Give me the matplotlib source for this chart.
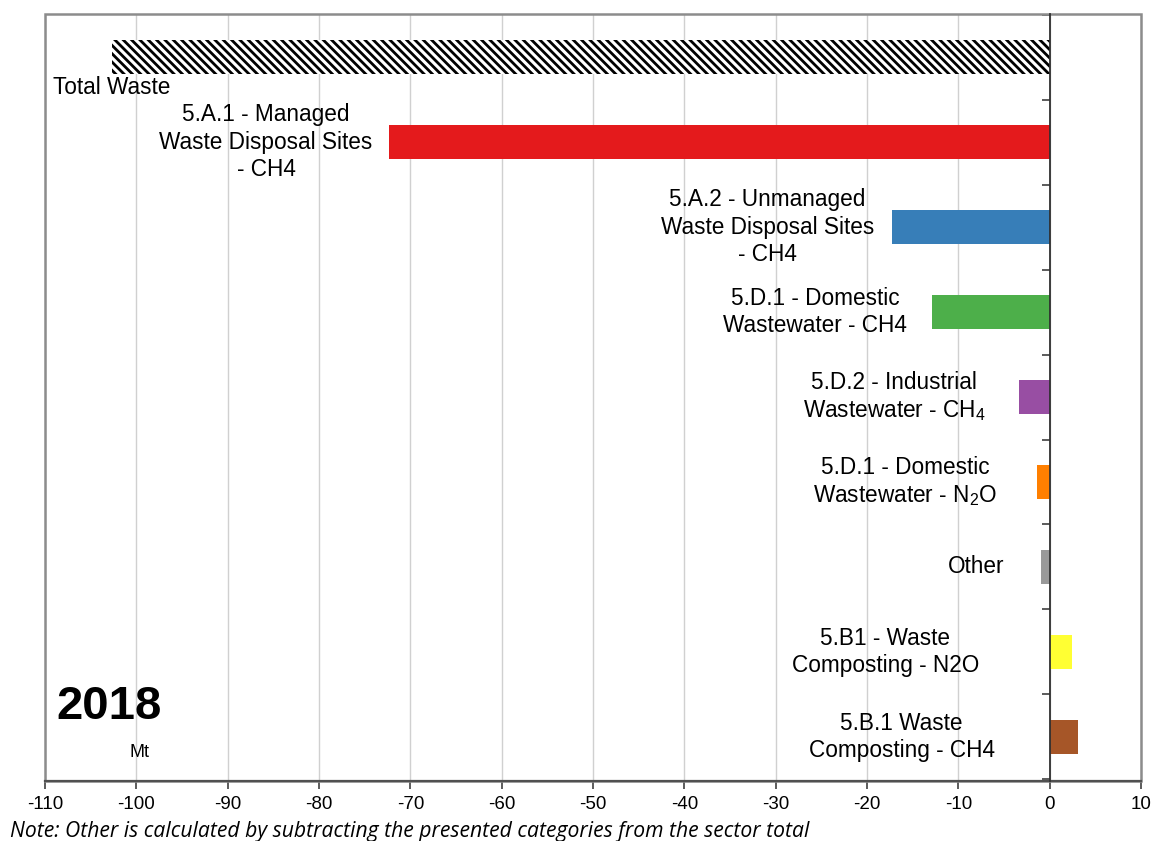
import matplotlib
matplotlib.use("Agg")
import matplotlib.pyplot as plt
from matplotlib.patches import Rectangle

plt.rcParams['font.family'] = ['Liberation Sans', 'DejaVu Sans']
plt.rcParams['mathtext.fontset'] = 'custom'
plt.rcParams['mathtext.rm'] = 'Liberation Sans'
plt.rcParams['mathtext.it'] = 'Liberation Sans'
plt.rcParams['hatch.linewidth'] = 2.0

# ---- data ----
categories = [
    "Total Waste",
    "5.A.1 - Managed\nWaste Disposal Sites\n- CH4",
    "5.A.2 - Unmanaged\nWaste Disposal Sites\n- CH4",
    "5.D.1 - Domestic\nWastewater - CH4",
    "5.D.2 - Industrial\nWastewater - CH$_4$",
    "5.D.1 - Domestic\nWastewater - N$_2$O",
    "Other",
    "5.B1 - Waste\nComposting - N2O",
    "5.B.1 Waste\nComposting - CH4",
]
values = [-102.7, -72.3, -17.3, -12.9, -3.4, -1.4, -0.9, 2.4, 3.1]
colors = ["white", "#e41a1c", "#377eb8", "#4daf4a", "#984ea3",
          "#ff7f00", "#999999", "#ffff33", "#a65628"]
xticks = list(range(-110, 11, 10))
year = "2018"
unit = "Mt"
note = "Note: Other is calculated by subtracting the presented categories from the sector total"

# label centre x (data units) for each category label (after Total)
label_x = [None, -85.8, -30.9, -25.7, -17.0, -15.8, -8.0, -18.0, -16.2]

fig = plt.figure(figsize=(11.55, 8.41), dpi=100)
ax = fig.add_axes([45/1155, 60/841, (1141-45)/1155, (781-14)/841])

ypos = list(range(len(categories)))
bars = ax.barh(ypos, values, height=0.4, color=colors, edgecolor='none', zorder=3)
bars[0].set_hatch('\\\\\\\\')
bars[0].set_edgecolor('black')
bars[0].set_linewidth(0)

ax.set_xlim(-110, 10)
ax.set_ylim(8.52, -0.51)
ax.set_xticks(xticks)
ax.set_xticklabels([str(t) for t in xticks], fontsize=13.5)
ax.xaxis.grid(True, color='#d0d0d0', linewidth=1.0, zorder=0)
ax.set_axisbelow(True)

ax.set_yticks([i + 0.5 for i in range(-1, len(categories))])
ax.set_yticklabels([])
ax.tick_params(axis='y', direction='out', length=6, color='#404040', width=1.2)
ax.tick_params(axis='x', direction='out', length=6, color='#404040', width=1.2, pad=5)

for s in ['top', 'right']:
    ax.spines[s].set_visible(False)
ax.spines['left'].set_position(('data', 0))
ax.spines['left'].set_color('#303030')
ax.spines['left'].set_linewidth(1.3)
ax.spines['left'].set_zorder(4)
ax.spines['bottom'].set_color('#505050')
ax.spines['bottom'].set_linewidth(1.6)

# grey outer frame
frame = Rectangle((0, 0), 1, 1, transform=ax.transAxes, fill=False,
                  edgecolor='#8c8c8c', linewidth=1.8, zorder=2, clip_on=False)
ax.add_patch(frame)

# labels
ax.text(-109.1, 0.36, categories[0], ha='left', va='center', fontsize=16.3, zorder=5)
for i in range(1, len(categories)):
    ax.text(label_x[i], i, categories[i], ha='center', va='center',
            multialignment='center', fontsize=16.3, linespacing=1.24, zorder=5)

ax.text(-108.8, 7.65, year, ha='left', va='center', fontsize=34, fontweight='bold', zorder=5)
ax.text(-99.6, 8.18, unit, ha='center', va='center', fontsize=13, zorder=5)

fig.text(10/1155, 1 - 831/841, note, ha='left', va='center', fontsize=15.2,
         style='italic', family=['Open Sans', 'DejaVu Sans'])

fig.savefig("out.png", dpi=100, facecolor='white')
